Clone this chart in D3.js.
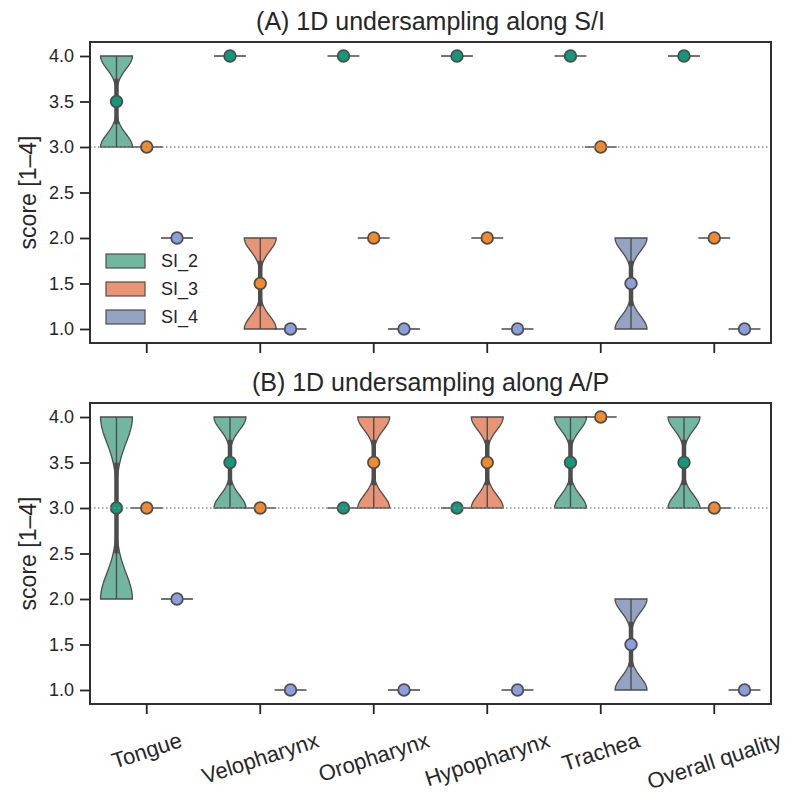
<!DOCTYPE html>
<html>
<head>
<meta charset="utf-8">
<script src="https://cdn.jsdelivr.net/npm/d3@7"></script>
<style>
body { margin: 0; background: #fff; }
text { font-family: Arial, "Liberation Sans", sans-serif; fill: #262626; }
</style>
</head>
<body>
<svg id="chart" width="806" height="805"></svg>
<script>
// regions on the x axis
const categories = ["Tongue", "Velopharynx", "Oropharynx", "Hypopharynx", "Trachea", "Overall quality"];
const hues = ["SI_2", "SI_3", "SI_4"];
const panelTitles = ["(A) 1D undersampling along S/I", "(B) 1D undersampling along A/P"];
const yTicks = [1.0, 1.5, 2.0, 2.5, 3.0, 3.5, 4.0];
const refScore = 3.0;

// two reader scores for every region / setting, [region][hue] = [a, b]
const scoresSI = [
	[[3, 4], [3, 3], [2, 2]],
	[[4, 4], [1, 2], [1, 1]],
	[[4, 4], [2, 2], [1, 1]],
	[[4, 4], [2, 2], [1, 1]],
	[[4, 4], [3, 3], [1, 2]],
	[[4, 4], [2, 2], [1, 1]]
];
const scoresAP = [
	[[2, 4], [3, 3], [2, 2]],
	[[3, 4], [3, 3], [1, 1]],
	[[3, 3], [3, 4], [1, 1]],
	[[3, 3], [3, 4], [1, 1]],
	[[3, 4], [4, 4], [1, 2]],
	[[3, 4], [3, 3], [1, 1]]
];

const violinColors = ["#71b6a0", "#e99575", "#95a3c3"];
const dotColors = ["#12997a", "#f58a2c", "#8c9fdc"];

const svg = d3.select("#chart");
const grey = "#4d4d4d";

const left = 90, right = 771;
const panels = [
	{top: 42, bottom: 343, data: scoresSI, title: panelTitles[0]},
	{top: 403, bottom: 704, data: scoresAP, title: panelTitles[1]}
];

const x = d3.scaleBand().domain(categories).range([left, right]).padding(0);
const xh = d3.scaleBand().domain(hues).range([-x.bandwidth() * 0.4, x.bandwidth() * 0.4]);
const halfW = xh.bandwidth() / 2 + 0.8;

// small gaussian kde, bandwidth as a fraction of the std
function kde(vals, grid){
	const bw = d3.deviation(vals) * 0.2;
	return grid.map(function(t){
		return d3.mean(vals, function(v){ return Math.exp(-0.5 * ((t - v) / bw) ** 2); });
	});
}

panels.forEach(function(p, pi){
	const y = d3.scaleLinear().domain([0.846, 4.154]).range([p.bottom, p.top]);
	const g = svg.append("g");

	// title
	g.append("text")
		.attr("x", (left + right) / 2)
		.attr("y", p.top - 12)
		.attr("text-anchor", "middle")
		.attr("font-size", "25px")
		.text(p.title);

	// axes
	const yAxis = g.append("g")
		.attr("transform", "translate(" + left + ",0)")
		.call(d3.axisLeft(y).tickValues(yTicks).tickFormat(d3.format(".1f")).tickSize(10).tickPadding(6));
	yAxis.selectAll("text").attr("font-size", "18px").style("font-family", "Arial, 'Liberation Sans', sans-serif").attr("fill", "#262626");

	const xAxis = g.append("g")
		.attr("transform", "translate(0," + p.bottom + ")")
		.call(d3.axisBottom(x).tickSize(10).tickFormat(""));
	[yAxis, xAxis].forEach(function(a){
		a.select(".domain").remove();
		a.selectAll("line").attr("stroke", "#262626").attr("stroke-width", 1.8);
	});

	g.append("text")
		.attr("transform", "translate(36," + (p.top + p.bottom) / 2 + ") rotate(-90)")
		.attr("text-anchor", "middle")
		.attr("font-size", "23px")
		.text("score [1\u20134]");

	// violins
	p.data.forEach(function(row, ci){
		row.forEach(function(vals, hi){
			const cx = x(categories[ci]) + x.bandwidth() / 2 + xh(hues[hi]) + xh.bandwidth() / 2;
			const lo = d3.min(vals), hiV = d3.max(vals);
			const vg = g.append("g");
			if (lo === hiV){
				vg.append("line")
					.attr("x1", cx - halfW).attr("x2", cx + halfW)
					.attr("y1", y(lo)).attr("y2", y(lo))
					.attr("stroke", grey).attr("stroke-width", 1.6);
			} else {
				const grid = d3.range(0, 81).map(function(i){ return lo + (hiV - lo) * i / 80; });
				const dens = kde(vals, grid);
				const dMax = d3.max(dens);
				const pts = grid.map(function(v, i){ return {v: v, w: dens[i] / dMax * halfW}; });
				vg.append("path")
					.datum(pts)
					.attr("d", d3.area()
						.x0(function(d){ return cx - d.w; })
						.x1(function(d){ return cx + d.w; })
						.y(function(d){ return y(d.v); }))
					.attr("fill", violinColors[hi])
					.attr("stroke", grey)
					.attr("stroke-width", 1.3);
				vg.append("line")
					.attr("x1", cx).attr("x2", cx)
					.attr("y1", y(lo)).attr("y2", y(hiV))
					.attr("stroke", grey).attr("stroke-width", 1.4);
				const sorted = vals.slice().sort(d3.ascending);
				vg.append("line")
					.attr("x1", cx).attr("x2", cx)
					.attr("y1", y(d3.quantileSorted(sorted, 0.25)))
					.attr("y2", y(d3.quantileSorted(sorted, 0.75)))
					.attr("stroke", grey).attr("stroke-width", 4.5);
			}
			vg.append("circle")
				.attr("cx", cx)
				.attr("cy", y(d3.median(vals)))
				.attr("r", 5.8)
				.attr("fill", dotColors[hi])
				.attr("stroke", grey)
				.attr("stroke-width", 1.8);
		});
	});

	// reference line at 3.0
	g.append("line")
		.attr("x1", left).attr("x2", right)
		.attr("y1", y(refScore)).attr("y2", y(refScore))
		.attr("stroke", "#8c8c8c")
		.attr("stroke-width", 1.5)
		.attr("stroke-dasharray", "1.5,2.5");

	// frame
	g.append("rect")
		.attr("x", left).attr("y", p.top)
		.attr("width", right - left).attr("height", p.bottom - p.top)
		.attr("fill", "none")
		.attr("stroke", "#262626")
		.attr("stroke-width", 1.9);

	// legend in the first panel
	if (pi === 0){
		const lg = g.append("g");
		hues.forEach(function(h, i){
			const ly = 261 + i * 28;
			lg.append("rect")
				.attr("x", 106).attr("y", ly - 7)
				.attr("width", 39).attr("height", 14)
				.attr("fill", violinColors[i])
				.attr("stroke", grey).attr("stroke-width", 1.2);
			lg.append("text")
				.attr("x", 161).attr("y", ly)
				.attr("dy", "0.35em")
				.attr("font-size", "18px")
				.text(h);
		});
	}

	// rotated region labels under the second panel
	if (pi === 1){
		const rad = 18 * Math.PI / 180;
		categories.forEach(function(c){
			const t = g.append("text")
				.attr("text-anchor", "middle")
				.attr("dominant-baseline", "central")
				.attr("font-size", "22px")
				.text(c);
			const w = t.node().getComputedTextLength();
			const h = 24;
			const boxH = w * Math.sin(rad) + h * Math.cos(rad);
			const cx = x(c) + x.bandwidth() / 2;
			const cy = p.bottom + 24 + boxH / 2;
			t.attr("transform", "translate(" + cx + "," + cy + ") rotate(-18)");
		});
	}
});
</script>
</body>
</html>
